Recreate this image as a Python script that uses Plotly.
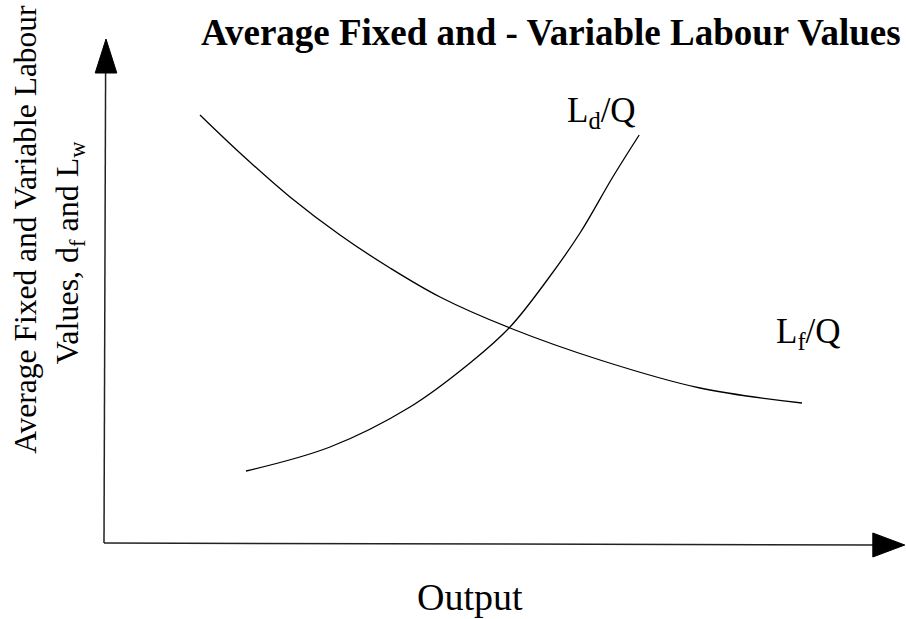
import plotly.graph_objects as go

# Data (x: output units, y: value units)
lf_x = [12, 17, 23.25, 29.5, 35.75, 42, 50.75, 62, 74.5, 87.25]
lf_y = [85.6, 78, 69.2, 61.6, 55, 49.2, 43, 36.6, 31, 28]
ld_x = [17.75, 28.25, 38.25, 45.75, 50.75, 55.4, 59.5, 63.6, 66.9]
ld_y = [14.4, 19.2, 27.2, 36, 43.2, 52.6, 62, 73.2, 81.6]

title_text = "<b>Average Fixed and - Variable Labour Values</b>"
ytitle_1 = "Average Fixed and Variable Labour"
ytitle_2 = "Values, d<sub>f</sub> and L<sub>w</sub>"
xtitle = "Output"
ld_label = "L<sub>d</sub>/Q"
lf_label = "L<sub>f</sub>/Q"

FONT = "Liberation Serif"

fig = go.Figure()
fig.add_trace(go.Scatter(x=lf_x, y=lf_y, mode="lines", line=dict(color="black", width=1.3, shape="spline"),
                         hoverinfo="skip", showlegend=False))
fig.add_trace(go.Scatter(x=ld_x, y=ld_y, mode="lines", line=dict(color="black", width=1.3, shape="spline"),
                         hoverinfo="skip", showlegend=False))

shapes = [
    dict(type="line", x0=0, y0=0, x1=0.2, y1=94, line=dict(color="#222", width=1.5)),
    dict(type="line", x0=0, y0=0, x1=96.2, y1=-0.4, line=dict(color="#222", width=1.5)),
    dict(type="path", path="M -1.1,94 L 1.6,94 L 0.25,100.8 Z", fillcolor="black", line=dict(color="black", width=1)),
    dict(type="path", path="M 96.1,2.0 L 96.1,-2.8 L 100.1,-0.4 Z", fillcolor="black", line=dict(color="black", width=1)),
]

annotations = [
    dict(x=55.9, y=102.2, text=title_text, showarrow=False,
         font=dict(family=FONT, size=37, color="black"), xanchor="center", yanchor="middle"),
    dict(x=-9.9, y=62.8, text=ytitle_1, showarrow=False, textangle=-90,
         font=dict(family=FONT, size=31.5, color="black"), xanchor="center", yanchor="middle"),
    dict(x=-4.35, y=58.2, text=ytitle_2, showarrow=False, textangle=-90,
         font=dict(family=FONT, size=32, color="black"), xanchor="center", yanchor="middle"),
    dict(x=45.75, y=-10.8, text=xtitle, showarrow=False,
         font=dict(family=FONT, size=38, color="black"), xanchor="center", yanchor="middle"),
    dict(x=62.2, y=86.1, text=ld_label, showarrow=False,
         font=dict(family=FONT, size=35, color="black"), xanchor="center", yanchor="middle"),
    dict(x=88.1, y=42.0, text=lf_label, showarrow=False,
         font=dict(family=FONT, size=35, color="black"), xanchor="center", yanchor="middle"),
]

fig.update_layout(
    width=906, height=619,
    margin=dict(l=0, r=0, t=0, b=0),
    paper_bgcolor="white", plot_bgcolor="white",
    xaxis=dict(range=[-13, 100.25], visible=False, fixedrange=True),
    yaxis=dict(range=[-15.2, 108.6], visible=False, fixedrange=True),
    shapes=shapes, annotations=annotations,
)
fig.write_html("out.html", config={"displayModeBar": False},
               post_script="document.body.style.margin='0';document.body.style.overflow='hidden';")
